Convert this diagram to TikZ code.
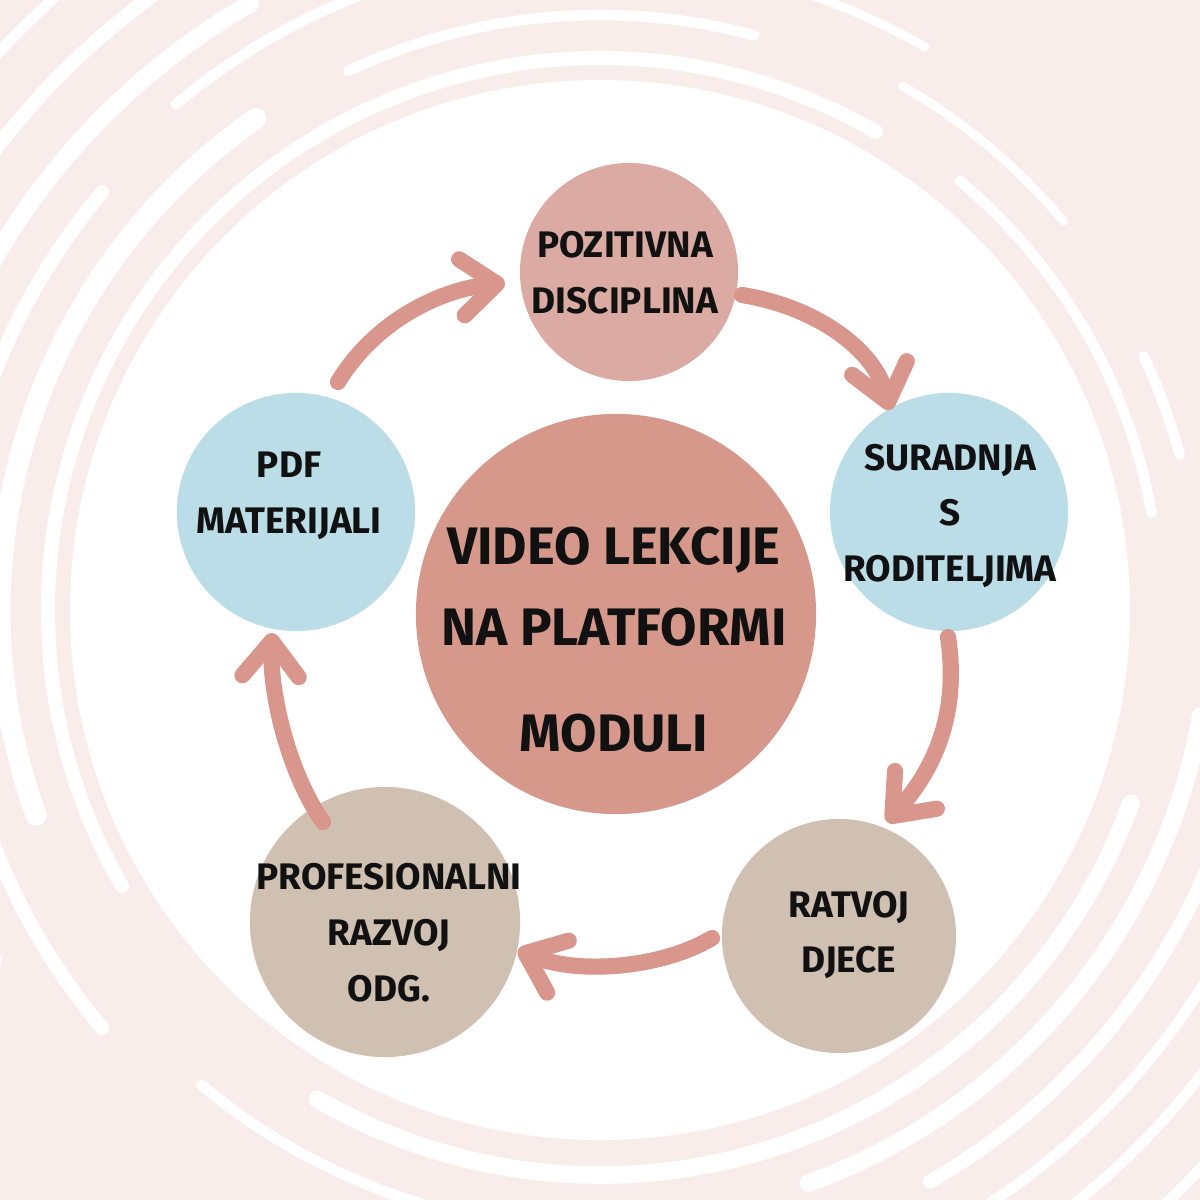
\documentclass[tikz,border=0pt]{standalone}
\usepackage{fontspec}
\setmainfont{Fira Sans}
\usetikzlibrary{arrows.meta,calc}
\definecolor{bgpink}{HTML}{F9EDEB}
\definecolor{topc}{HTML}{DBAAA3}
\definecolor{cenc}{HTML}{D6988B}
\definecolor{bluec}{HTML}{BADDE8}
\definecolor{beigec}{HTML}{CFC0B2}
\definecolor{arrc}{HTML}{D9968C}
\definecolor{inkc}{HTML}{111111}
\begin{document}
\begin{tikzpicture}[x=0.01cm,y=-0.01cm,
  circ/.style={circle,draw=none,inner sep=0pt},
  lbl/.style={text=inkc,align=center,font=\bfseries\fontsize{10.5}{15.9}\selectfont,inner sep=0pt},
  biglbl/.style={text=inkc,align=center,font=\bfseries\fontsize{15}{22.8}\selectfont,inner sep=0pt},
  arr/.style={draw=arrc,line width=4.6pt,line cap=round,-{Straight Barb[length=10pt,width=16pt,round]}},
  swirl/.style={draw=white,line cap=round}]
\fill[bgpink] (0,0) rectangle (1200,1200);
\useasboundingbox (0,0) rectangle (1200,1200);
\begin{scope}
\clip (0,0) rectangle (1200,1200);
\begin{scope}[shift={(600,610)}]
\fill[white] (0,0) circle[radius=530];
\draw[swirl,line width=4pt] (150:552) arc[start angle=150,end angle=300,radius=552];
\draw[swirl,line width=3pt] (310:560) arc[start angle=310,end angle=350,radius=560];
\draw[swirl,line width=5pt] (20:565) arc[start angle=20,end angle=120,radius=565];
\draw[swirl,line width=6pt] (160:600) arc[start angle=160,end angle=235,radius=600];
\draw[swirl,line width=3pt] (245:595) arc[start angle=245,end angle=285,radius=595];
\draw[swirl,line width=2.5pt] (300:605) arc[start angle=300,end angle=320,radius=605];
\draw[swirl,line width=3pt] (335:600) arc[start angle=335,end angle=345,radius=600];
\draw[swirl,line width=5pt] (10:610) arc[start angle=10,end angle=70,radius=610];
\draw[swirl,line width=3pt] (85:620) arc[start angle=85,end angle=130,radius=620];
\draw[swirl,line width=4pt] (140:650) arc[start angle=140,end angle=220,radius=650];
\draw[swirl,line width=3pt] (230:660) arc[start angle=230,end angle=262,radius=660];
\draw[swirl,line width=2.5pt] (280:650) arc[start angle=280,end angle=300,radius=650];
\draw[swirl,line width=4pt] (15:660) arc[start angle=15,end angle=60,radius=660];
\draw[swirl,line width=3pt] (75:670) arc[start angle=75,end angle=110,radius=670];
\draw[swirl,line width=5pt] (150:700) arc[start angle=150,end angle=240,radius=700];
\draw[swirl,line width=3pt] (25:710) arc[start angle=25,end angle=80,radius=710];
\draw[swirl,line width=3pt] (255:720) arc[start angle=255,end angle=275,radius=720];
\draw[swirl,line width=4pt] (175:760) arc[start angle=175,end angle=250,radius=760];
\draw[swirl,line width=3pt] (35:760) arc[start angle=35,end angle=70,radius=760];
\draw[swirl,line width=3pt] (200:820) arc[start angle=200,end angle=245,radius=820];
\draw[swirl,line width=3pt] (40:820) arc[start angle=40,end angle=60,radius=820];
\end{scope}
\end{scope}
% circles
\node[circ,fill=cenc,minimum size=4cm] (C) at (616,614) {};
\node[circ,fill=topc,minimum size=2.18cm] (T) at (629,272) {};
\node[circ,fill=bluec,minimum size=2.38cm] (R) at (949,512) {};
\node[circ,fill=beigec,minimum size=2.34cm] (BR) at (839,936) {};
\node[circ,fill=beigec,minimum size=2.7cm] (BL) at (385,922) {};
\node[circ,fill=bluec,minimum size=2.38cm] (L) at (296,512) {};
% labels
\node[biglbl] (Ct) at (614,640) {VIDEO LEKCIJE\\NA PLATFORMI\\[7.5pt]MODULI};
\node[lbl] (Tt) at (625,273) {POZITIVNA\\DISCIPLINA};
\node[lbl] (Rt) at (950,516) {SURADNJA\\S\\RODITELJIMA};
\node[lbl] (BRt) at (849,935) {RATVOJ\\DJECE};
\node[lbl] (BLt) at (389,933) {PROFESIONALNI\\RAZVOJ\\ODG.};
\node[lbl] (Lt) at (289,496) {PDF\\MATERIJALI};
% arrows
\draw[arr] ($(L)+(42,-130)$) .. controls +(40,-65) and +(-60,6) .. ($(T)+(-124,11)$);
\draw[arr] ($(T)+(113,23)$) .. controls +(75,12) and +(-15,-60) .. ($(R)+(-59,-102)$);
\draw[arr] ($(R)+(-1,125)$) .. controls +(12,80) and +(45,-50) .. ($(BR)+(48,-114)$);
\draw[arr] ($(BR)+(-127,2)$) .. controls +(-50,30) and +(60,25) .. ($(BL)+(133,28)$);
\draw[arr] ($(BL)+(-62,-100)$) .. controls +(-35,-50) and +(-2,60) .. ($(L)+(-24,121)$);
\end{tikzpicture}
\end{document}
